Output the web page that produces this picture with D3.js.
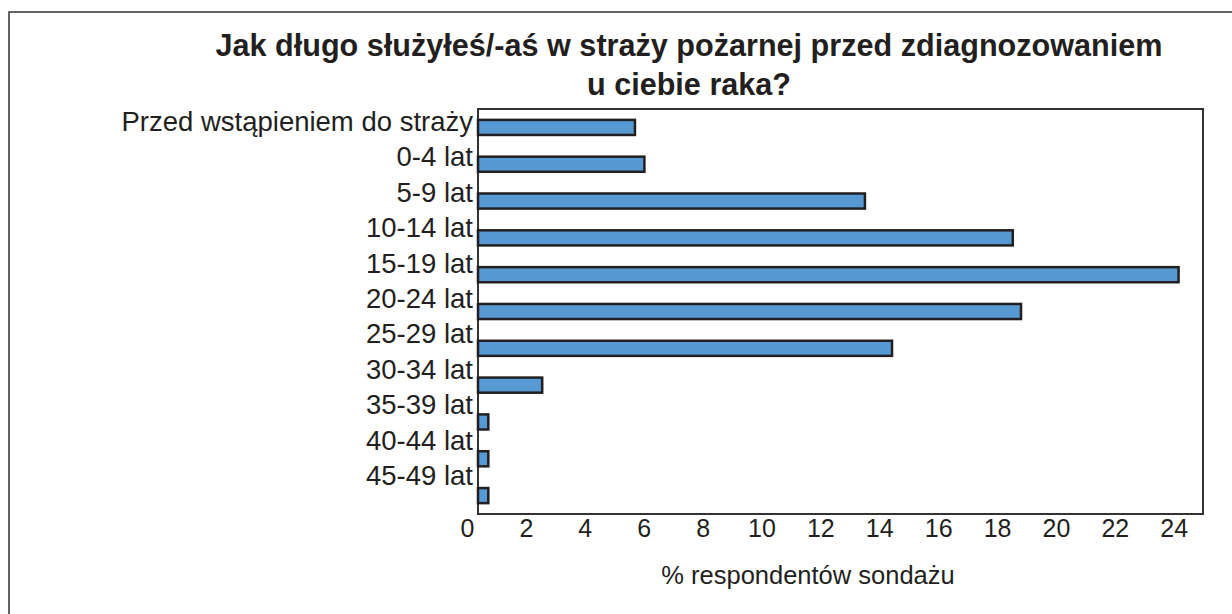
<!DOCTYPE html>
<html>
<head>
<meta charset="utf-8">
<script src="https://cdn.jsdelivr.net/npm/d3@7"></script>
<style>
  body { margin: 0; background: #fff; }
  text { font-family: Arial, "Liberation Sans", sans-serif; fill: #231f20; }
</style>
</head>
<body>
<div id="viz"></div>
<script>
const categories = ["Przed wstąpieniem do straży", "0-4 lat", "5-9 lat", "10-14 lat", "15-19 lat",
  "20-24 lat", "25-29 lat", "30-34 lat", "35-39 lat", "40-44 lat", "45-49 lat"]
const values = [5.33, 5.65, 13.14, 18.16, 23.79, 18.44, 14.06, 2.18, 0.35, 0.35, 0.35]
const ticks = [0, 2, 4, 6, 8, 10, 12, 14, 16, 18, 20, 22, 24]

const width = 1232
const height = 614

const svg = d3.select("#viz").append("svg")
  .attr("width", width)
  .attr("height", height)

// outer frame (runs off the picture on the right and bottom)
svg.append("rect")
  .attr("x", 9).attr("y", 12)
  .attr("width", 1240).attr("height", 620)
  .attr("fill", "none")
  .attr("stroke", "#333")
  .attr("stroke-width", 1.5)

const plotLeft = 478, plotRight = 1203, plotTop = 109, plotBottom = 514

const x = d3.scaleLinear().domain([0, 24.62]).range([plotLeft, plotRight])

const y = d3.scaleBand().domain(categories).range([plotTop, plotBottom])
  .paddingInner(0.59).paddingOuter(0.295)

const labelY = d3.scalePoint().domain(categories).range([131, 485])

// title
svg.append("text")
  .attr("x", 689).attr("y", 56)
  .attr("text-anchor", "middle")
  .style("font-size", "30.6px").style("font-weight", "bold")
  .text("Jak długo służyłeś/-aś w straży pożarnej przed zdiagnozowaniem")

svg.append("text")
  .attr("x", 689).attr("y", 95)
  .attr("text-anchor", "middle")
  .style("font-size", "30.6px").style("font-weight", "bold")
  .text("u ciebie raka?")

// plot box
svg.append("rect")
  .attr("x", plotLeft).attr("y", plotTop)
  .attr("width", plotRight - plotLeft).attr("height", plotBottom - plotTop)
  .attr("fill", "none")
  .attr("stroke", "#333")
  .attr("stroke-width", 2)

svg.selectAll(".bar")
  .data(values)
  .enter()
  .append("rect")
  .attr("class", "bar")
  .attr("x", x(0))
  .attr("y", (d, i) => y(categories[i]))
  .attr("width", d => x(d) - x(0))
  .attr("height", y.bandwidth())
  .attr("fill", "#5799d3")
  .attr("stroke", "#231f20")
  .attr("stroke-width", 2.5)

svg.selectAll(".cat")
  .data(categories)
  .enter()
  .append("text")
  .attr("class", "cat")
  .attr("x", 473)
  .attr("y", d => labelY(d))
  .attr("text-anchor", "end")
  .style("font-size", "27.5px")
  .text(d => d)

// x axis tick labels
const axis = svg.append("g")
  .attr("transform", `translate(0,${plotBottom})`)
  .call(d3.axisBottom(x).tickValues(ticks).tickSize(0).tickFormat(d3.format("d")))

axis.select(".domain").remove()
axis.selectAll("text")
  .attr("y", 23).attr("dy", 0).attr("dx", -11)
  .style("font-size", "25px")
  .style("font-family", "Arial, 'Liberation Sans', sans-serif")
  .attr("fill", "#231f20")

svg.append("text")
  .attr("x", 808).attr("y", 584)
  .attr("text-anchor", "middle")
  .style("font-size", "25.5px")
  .text("% respondentów sondażu")
</script>
</body>
</html>
